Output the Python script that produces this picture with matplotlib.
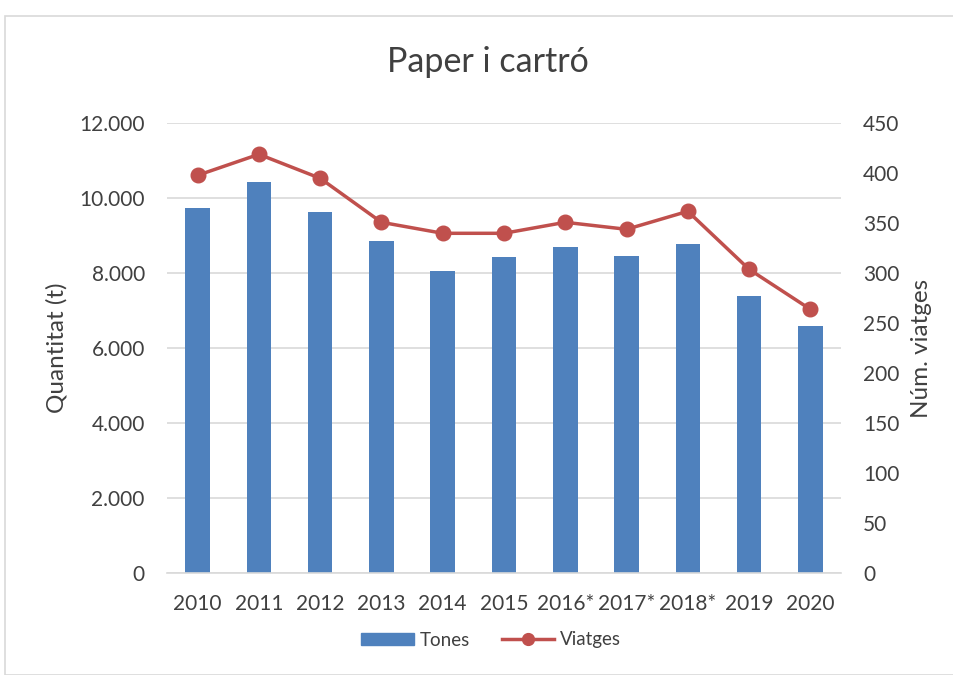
import matplotlib
matplotlib.use("Agg")
import matplotlib.pyplot as plt
from matplotlib.patches import Rectangle
from matplotlib.lines import Line2D
from matplotlib.ticker import FuncFormatter, MultipleLocator
import numpy as np

years = ["2010", "2011", "2012", "2013", "2014", "2015", "2016*", "2017*", "2018*", "2019", "2020"]
tones = [9750, 10430, 9640, 8870, 8070, 8430, 8710, 8470, 8780, 7390, 6590]
viatges = [398, 419, 395, 351, 340, 340, 351, 344, 362, 304, 264]

plt.rcParams['font.family'] = ['Lato', 'DejaVu Sans']
txt = '#404040'
bar_c = '#4F81BD'
line_c = '#C0504D'

W, H = 954, 675
fig = plt.figure(figsize=(W / 100, H / 100), dpi=100)
fig.patches.append(Rectangle((5 / W, 0), 1.0, 1 - 16 / H, transform=fig.transFigure,
                             fill=False, edgecolor='#D9D9D9', linewidth=1.2))

ax = fig.add_axes([167 / W, 1 - 573.3 / H, (841 - 167) / W, (573.3 - 123.3) / H])
x = np.arange(len(years))
ax.bar(x, tones, width=0.40, color=bar_c, zorder=2)
ax.set_xlim(-0.5, len(years) - 0.5)
ax.set_ylim(0, 12000)
ax.yaxis.set_major_locator(MultipleLocator(2000))
ax.yaxis.set_major_formatter(FuncFormatter(lambda v, p: f"{int(v):,}".replace(",", ".")))
ax.grid(axis='y', color='#D9D9D9', linewidth=1.2, zorder=0)
ax.set_axisbelow(True)
for s in ['top', 'right', 'left']:
    ax.spines[s].set_visible(False)
ax.spines['bottom'].set_color('#D9D9D9')
ax.spines['bottom'].set_linewidth(1.2)
ax.set_xticks(x)
ax.set_xticklabels(years)
ax.tick_params(axis='both', length=0, labelsize=15, colors=txt)
ax.tick_params(axis='x', pad=15)
ax.tick_params(axis='y', pad=16)

ax2 = ax.twinx()
ax2.plot(x, viatges, color=line_c, linewidth=2.5, marker='o', markersize=10.5, zorder=3)
ax2.set_ylim(0, 450)
ax2.yaxis.set_major_locator(MultipleLocator(50))
for s in ['top', 'right', 'left', 'bottom']:
    ax2.spines[s].set_visible(False)
ax2.tick_params(axis='y', length=0, labelsize=15, colors=txt, pad=16)

fig.text(57 / W, 1 - 348 / H, "Quantitat (t)", rotation=90, ha='center', va='center',
         fontsize=17.5, color=txt)
fig.text(922 / W, 1 - 348 / H, "Núm. viatges", rotation=90, ha='center', va='center',
         fontsize=17.5, color=txt)

fig.text(488 / W, 1 - 62 / H, "Paper i cartró", ha='center', va='center', fontsize=24.5, color=txt)

handles = [Rectangle((0, 0), 1, 1, color=bar_c),
           Line2D([0], [0], color=line_c, linewidth=2.5, marker='o', markersize=8.5)]
fig.legend(handles, ["Tones", "Viatges"], loc='center', bbox_to_anchor=(491 / W, 1 - 640 / H),
           ncol=2, frameon=False, fontsize=13.5, labelcolor=txt, handlelength=2.8,
           handleheight=0.65, handletextpad=0.3, columnspacing=1.7)

fig.savefig("out.png", dpi=100)
